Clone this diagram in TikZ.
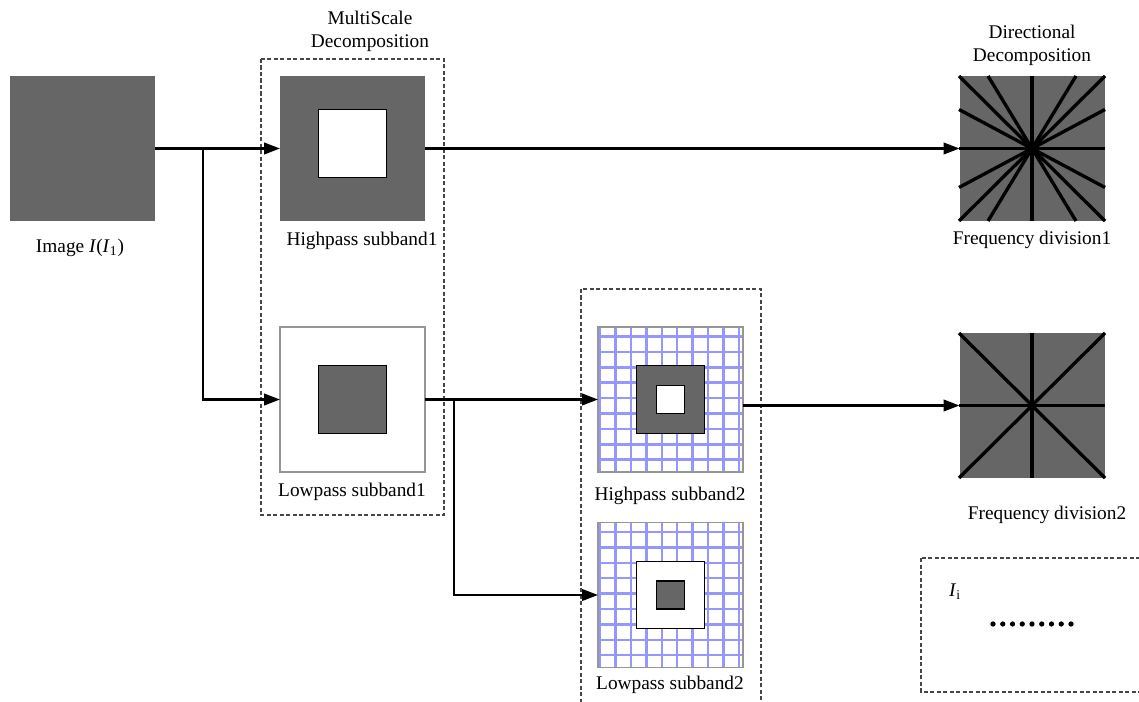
\documentclass[tikz,border=0pt]{standalone}
\usepackage{fontspec}
\setmainfont{Liberation Serif}
\usetikzlibrary{arrows.meta,calc}
\definecolor{fillgray}{RGB}{102,102,102}
\definecolor{edgegray}{RGB}{150,150,150}
\definecolor{gridblue}{RGB}{150,150,255}
\definecolor{dashgray}{RGB}{70,70,70}
\begin{document}
\begin{tikzpicture}[x=0.02cm,y=-0.02cm,
  every node/.style={inner sep=0pt,outer sep=0pt},
  darksq/.style={fill=fillgray,minimum size=2.9cm},
  lightsq/.style={fill=white,draw=edgegray,line width=0.9pt,minimum size=2.9cm},
  innerwhite/.style={fill=white,draw=black,line width=0.6pt,minimum size=1.35cm},
  innerdark/.style={fill=fillgray,draw=black,line width=0.6pt,minimum size=1.35cm},
  tinywhite/.style={fill=white,draw=black,line width=0.6pt,minimum size=0.56cm},
  tinydark/.style={fill=fillgray,draw=black,line width=0.6pt,minimum size=0.56cm},
  lbl/.style={font=\fontsize{11}{13}\selectfont,align=center},
  conn/.style={line width=1.3pt,-{Triangle[length=9pt,width=6.5pt]}},
  dashbox/.style={draw=dashgray,line width=0.6pt,dash pattern=on 2.4pt off 1.3pt},
  gridline/.style={draw=gridblue,line width=1.4pt},
  ray/.style={line width=1.9pt}]
\useasboundingbox (0,0) rectangle (1139,702);
\clip (0,0) rectangle (1139,702);

% frames around the decomposition stages
\draw[dashbox] (261,59) rectangle (444,515);
\draw[dashbox] (581,289) rectangle (761,720);
\draw[dashbox] (921,558) rectangle (1160,692);

% titles
\node[lbl] (msTitle) at (370,31) {MultiScale\\Decomposition};
\node[lbl] (ddTitle) at (1032,45) {Directional\\Decomposition};

% input image
\node[darksq] (img) at (82.5,148.5) {};
\node[lbl] (imgLbl) at (80,248) {Image \textit{I}(\textit{I}\textsubscript{1})};

% first level subbands
\node[darksq] (hp1) at (352.5,148.5) {};
\node[innerwhite] (hp1in) at ([yshift=0.1cm]hp1.center) {};
\node[lbl] (hp1Lbl) at (362,241) {Highpass subband1};

\node[lightsq] (lp1) at (352.5,399.5) {};
\node[innerdark] (lp1in) at (lp1.center) {};
\node[lbl] (lp1Lbl) at (352,492) {Lowpass subband1};

% second level subbands on a grid
\node[lightsq] (hp2) at (670.5,399.5) {};
\node[lightsq] (lp2) at (670.5,595) {};
\foreach \s in {hp2,lp2}{
  \begin{scope}[shift={(\s.north west)}]
    \foreach \k in {0,...,9}
      \draw[gridline] ({2+15.44*\k},0) -- ({2+15.44*\k},145);
    \foreach \k in {0,...,8}
      \draw[gridline] (0,{9.5+15.4*\k}) -- (145,{9.5+15.4*\k});
  \end{scope}
  \draw[draw=edgegray,line width=0.9pt] (\s.north west) rectangle (\s.south east);
}
\node[innerdark] (hp2in) at (hp2.center) {};
\node[tinywhite] (hp2core) at (hp2.center) {};
\node[lbl] (hp2Lbl) at (670,496) {Highpass subband2};

\node[innerwhite] (lp2in) at (lp2.center) {};
\node[tinydark] (lp2core) at (lp2.center) {};
\node[lbl] (lp2Lbl) at (670,685) {Lowpass subband2};

% directional frequency partitions
\node[darksq] (f1) at (1032,148.5) {};
\begin{scope}[shift={(f1.center)}]
  \draw[ray] (-73,0) -- (73,0);
  \draw[ray] (0,-72.5) -- (0,72.5);
  \draw[ray] (-73,-72.5) -- (73,72.5);
  \draw[ray] (73,-72.5) -- (-73,72.5);
  \draw[ray] (-44,-72.5) -- (44,72.5);
  \draw[ray] (44,-72.5) -- (-44,72.5);
  \draw[ray] (-73,-39) -- (73,39);
  \draw[ray] (73,-39) -- (-73,39);
\end{scope}
\node[lbl] (f1Lbl) at (1032,240) {Frequency division1};

\node[darksq] (f2) at (1032,405.5) {};
\begin{scope}[shift={(f2.center)}]
  \draw[ray] (-73,0) -- (73,0);
  \draw[ray] (0,-72.5) -- (0,72.5);
  \draw[ray] (-73,-72.5) -- (73,72.5);
  \draw[ray] (73,-72.5) -- (-73,72.5);
\end{scope}
\node[lbl] (f2Lbl) at (1047,515) {Frequency division2};

% legend
\node[lbl] (legI) at (955,592) {\textit{I}\textsubscript{i}};
\foreach \k in {0,...,8}
  \fill (993+9.75*\k,624) circle (1.5pt);

% connectors
\coordinate (j1) at (203,148.5);
\coordinate (j2) at (454,399.5);
\draw[conn] (img.east) -- (hp1.west);
\draw[conn] (j1) |- (lp1.west);
\draw[conn] (hp1.east) -- (f1.west);
\draw[conn] (lp1.east) -- (hp2.west);
\draw[conn] (j2) |- (lp2.west);
\draw[conn] (hp2.east |- f2.west) -- (f2.west);
\end{tikzpicture}
\end{document}
